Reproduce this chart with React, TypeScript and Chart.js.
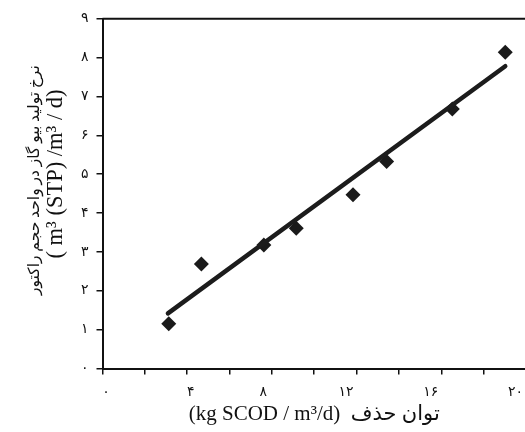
import React, { useEffect, useRef } from "react";
import { Chart, registerables } from "chart.js";

Chart.register(...registerables);

const removalRate = [3.13, 4.67, 7.62, 9.15, 11.83, 13.42, 16.52, 19.02];
const biogasRate = [1.15, 2.69, 3.18, 3.61, 4.47, 5.33, 6.68, 8.14];
const trendX = [3.09, 19.02];
const trendY = [1.42, 7.78];
const xTickLabels = ["۰", "", "۴", "", "۸", "", "۱۲", "", "۱۶", "", "۲۰"];
const yTickLabels = ["۰", "۱", "۲", "۳", "۴", "۵", "۶", "۷", "۸", "۹"];
const yTitleFa = "نرخ تولید بیو گاز در واحد حجم راکتور";
const yTitleUnit = "( m³ (STP) /m³ / d)";
const xTitle = "(kg SCOD / m³/d)  توان حذف";

const FONT = "'Liberation Serif', 'DejaVu Sans', serif";

// visual nudges for tick labels / titles (spaces only, layout)
const lead = (n: number) => " ".repeat(n);
const xLabelPad = [2, 0, 2, 0, -5, 0, -6, 0, -6, 0, -6];

const framePlugin = {
  id: "frameTop",
  afterDraw(chart: any) {
    const { ctx, chartArea } = chart;
    ctx.save();
    ctx.strokeStyle = "#111";
    ctx.lineWidth = 2;
    ctx.beginPath();
    ctx.moveTo(chartArea.left, chartArea.top);
    ctx.lineTo(chartArea.right + 10, chartArea.top);
    ctx.stroke();
    ctx.restore();
  },
};

export default function App() {
  const ref = useRef<HTMLCanvasElement>(null);
  useEffect(() => {
    if (!ref.current) return;
    const chart = new Chart(ref.current, {
      type: "scatter",
      data: {
        datasets: [
          {
            type: "line",
            data: trendX.map((x, i) => ({ x, y: trendY[i] })),
            borderColor: "#1c1c1c",
            borderWidth: 4.5,
            borderCapStyle: "round",
            pointRadius: 0,
            fill: false,
          } as any,
          {
            type: "scatter",
            data: removalRate.map((x, i) => ({ x, y: biogasRate[i] })),
            pointStyle: "rectRot",
            pointRadius: 7.5,
            backgroundColor: "#1a1a1a",
            borderWidth: 0,
          },
        ],
      },
      options: {
        animation: false,
        responsive: true,
        maintainAspectRatio: false,
        layout: { padding: { left: 0, top: 10, right: 26, bottom: 0 } },
        plugins: { legend: { display: false }, tooltip: { enabled: false } },
        scales: {
          x: {
            type: "linear",
            min: 0,
            max: 20,
            afterFit: (s: any) => {
              s.height = 63.5;
            },
            ticks: {
              stepSize: 2,
              autoSkip: false,
              maxRotation: 0,
              color: "#111",
              padding: 9,
              font: { family: FONT, size: 14 },
              callback: (_v: any, i: number) => {
                const t = xTickLabels[i];
                const p = xLabelPad[i];
                return p >= 0 ? lead(p) + t : t + lead(-p);
              },
            },
            grid: {
              display: true,
              drawOnChartArea: false,
              drawTicks: true,
              tickLength: 6,
              color: "#111",
              lineWidth: 1.5,
            },
            border: { display: true, color: "#111", width: 2 },
            title: {
              display: true,
              text: xTitle,
              color: "#111",
              font: { family: FONT, size: 21 },
              padding: { top: 0, bottom: 5 },
            },
          },
          y: {
            type: "linear",
            min: 0,
            max: 9,
            weight: 0,
            afterFit: (s: any) => {
              s.width = 64.5;
            },
            ticks: {
              stepSize: 1,
              color: "#111",
              padding: 8,
              font: { family: FONT, size: 14, lineHeight: 0.4 },
              callback: (_v: any, i: number) => yTickLabels[i],
            },
            grid: {
              display: true,
              drawOnChartArea: false,
              drawTicks: true,
              tickLength: 6,
              color: "#111",
              lineWidth: 1.5,
            },
            border: { display: true, color: "#111", width: 2 },
            title: {
              display: true,
              text: lead(7) + yTitleUnit,
              color: "#111",
              font: { family: FONT, size: 22.5 },
              padding: { top: 4.5, bottom: 0 },
            },
          },
          yFa: {
            type: "linear",
            position: "left",
            min: 0,
            max: 9,
            weight: 1,
            afterFit: (s: any) => {
              s.width = 30;
            },
            ticks: { display: false },
            grid: { display: false },
            border: { display: false },
            title: {
              display: true,
              text: lead(7) + yTitleFa,
              color: "#111",
              font: { family: FONT, size: 15.5 },
              padding: { top: 18, bottom: 0 },
            },
          },
        },
      },
      plugins: [framePlugin],
    });
    return () => chart.destroy();
  }, []);
  return (
    <div
      style={{
        position: "fixed",
        left: 8,
        top: 8,
        width: 517,
        height: 424,
        overflow: "hidden",
      }}
    >
      <div style={{ width: 545, height: 424, position: "relative" }}>
        <canvas ref={ref} />
      </div>
    </div>
  );
}
